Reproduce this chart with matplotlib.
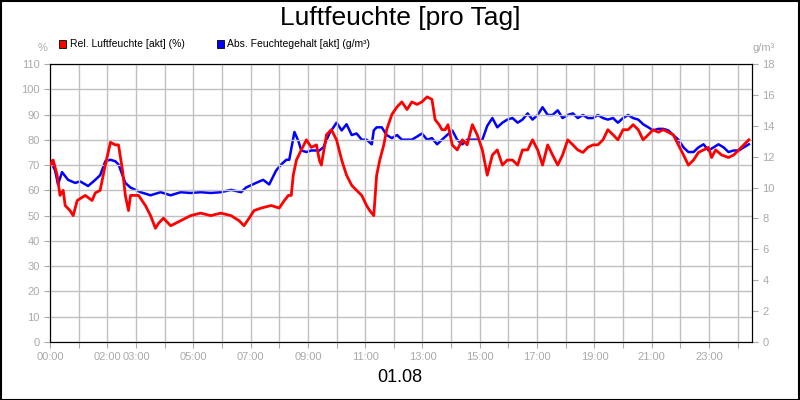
import matplotlib
matplotlib.use("Agg")
import matplotlib.pyplot as plt
import numpy as np
plt.rcParams['font.family'] = ['Liberation Sans', 'DejaVu Sans']

red_t = [0.00,0.11,0.25,0.35,0.46,0.53,0.70,0.81,0.95,1.23,1.47,1.58,1.75,1.93,2.11,2.28,2.39,2.53,2.63,2.74,2.81,3.09,3.33,3.51,3.68,3.79,3.96,4.21,4.39,4.56,4.91,5.26,5.61,5.96,6.32,6.60,6.77,6.95,7.12,7.37,7.72,8.00,8.18,8.32,8.42,8.49,8.60,8.77,8.95,9.12,9.30,9.40,9.47,9.65,9.82,10.0,10.18,10.35,10.53,10.70,10.88,11.05,11.16,11.30,11.40,11.51,11.65,11.75,11.93,12.11,12.28,12.46,12.63,12.81,12.98,13.16,13.33,13.44,13.58,13.68,13.79,13.89,14.04,14.21,14.39,14.56,14.74,14.91,15.09,15.26,15.44,15.61,15.79,15.96,16.14,16.32,16.49,16.67,16.84,17.02,17.19,17.37,17.54,17.72,17.89,18.07,18.25,18.42,18.60,18.77,18.95,19.12,19.30,19.47,19.65,19.82,20.00,20.18,20.35,20.53,20.70,20.88,21.05,21.23,21.40,21.58,21.75,21.93,22.11,22.28,22.46,22.63,22.81,22.98,23.09,23.23,23.44,23.68,23.86,24.04,24.21,24.39]
red_v = [70,72,66,58,60,54,52,50,56,58,56,59,60,70,79,78,78,68,58,52,58,58,54,50,45,47,49,46,47,48,50,51,50,51,50,48,46,49,52,53,54,53,56,58,58,66,72,76,80,77,78,72,70,82,84,80,72,66,62,60,58,54,52,50,66,72,78,84,90,93,95,92,95,94,95,97,96,88,86,84,84,86,78,76,80,78,86,82,76,66,74,76,70,72,72,70,76,76,80,76,70,78,74,70,74,80,78,76,75,77,78,78,80,84,82,80,84,84,86,84,80,82,84,83,84,83,82,78,74,70,72,75,76,77,73,76,74,73,74,76,78,80]

blue_t = [0.00,0.18,0.28,0.42,0.63,0.88,1.05,1.33,1.58,1.75,1.93,2.11,2.28,2.39,2.53,2.63,2.81,3.16,3.51,3.86,4.21,4.56,4.91,5.26,5.61,5.96,6.32,6.67,6.84,7.19,7.44,7.65,7.89,8.07,8.25,8.35,8.53,8.67,8.77,8.95,9.12,9.40,9.54,9.75,10.0,10.18,10.35,10.53,10.70,10.88,11.05,11.23,11.30,11.40,11.58,11.75,11.93,12.11,12.28,12.46,12.63,12.81,12.98,13.16,13.33,13.51,13.68,13.86,14.04,14.21,14.39,14.56,14.74,14.91,15.09,15.26,15.44,15.61,15.79,15.96,16.14,16.32,16.49,16.67,16.84,17.02,17.19,17.37,17.54,17.72,17.89,18.07,18.25,18.42,18.60,18.77,18.95,19.12,19.30,19.47,19.65,19.82,20.00,20.18,20.35,20.53,20.70,20.88,21.05,21.23,21.40,21.58,21.75,21.93,22.11,22.28,22.46,22.63,22.81,22.98,23.16,23.33,23.51,23.68,23.86,24.04,24.21,24.39]
blue_v = [11.8,11.1,10.2,11.0,10.5,10.3,10.4,10.1,10.5,10.8,11.7,11.8,11.7,11.5,10.8,10.3,10.0,9.7,9.5,9.7,9.5,9.7,9.65,9.7,9.65,9.7,9.85,9.7,10.0,10.3,10.5,10.2,11.1,11.5,11.8,11.8,13.6,13.0,12.4,12.3,12.4,12.4,12.6,13.5,14.2,13.7,14.1,13.4,13.5,13.1,13.1,12.8,13.7,13.9,13.9,13.4,13.2,13.4,13.1,13.1,13.1,13.3,13.5,13.1,13.2,12.8,13.1,13.4,13.7,13.1,12.8,13.1,13.1,13.1,13.1,14.0,14.5,13.9,14.2,14.4,14.5,14.2,14.4,14.8,14.4,14.7,15.2,14.7,14.7,15.0,14.5,14.7,14.8,14.5,14.7,14.5,14.5,14.7,14.5,14.4,14.5,14.2,14.5,14.7,14.5,14.4,14.1,13.9,13.7,13.8,13.8,13.7,13.4,13.1,12.6,12.3,12.3,12.6,12.8,12.4,12.6,12.8,12.6,12.3,12.4,12.4,12.6,12.8]

tick_hours = [0,2,3,5,7,9,11,13,15,17,19,21,23]
tick_labels = ["00:00","02:00","03:00","05:00","07:00","09:00","11:00","13:00","15:00","17:00","19:00","21:00","23:00"]

fig = plt.figure(figsize=(8,4), dpi=100)
fig.patches.append(plt.Rectangle((0.001,0.001),0.998,0.997, transform=fig.transFigure,
                                 fill=False, edgecolor='black', lw=1.5))
ax = fig.add_axes([0.0625, 0.145, 0.8775, 0.695])
gray = '#aaaaaa'
ax.set_xlim(0, 24.5)
ax.set_ylim(0, 110)
ax.set_yticks(range(0, 111, 10))
ax.set_xticks(range(0, 25))
ax.set_xticklabels([tick_labels[tick_hours.index(h)] if h in tick_hours else "" for h in range(25)])
ax.grid(True, color='#c0c0c0', lw=1)
ax.tick_params(colors=gray, labelsize=8, length=4)
for s in ax.spines.values():
    s.set_color('black')
ax.plot(red_t, red_v, color='#ff0000', lw=2, zorder=3)
ax2 = ax.twinx()
ax2.set_ylim(0, 18)
ax2.set_yticks(range(0, 19, 2))
ax2.tick_params(colors=gray, labelsize=8, length=4)
ax2.plot(blue_t, blue_v, color='#0000ff', lw=1.8, zorder=2)
ax.set_zorder(ax2.get_zorder()+1); ax.patch.set_visible(False)

fig.text(0.5, 0.955, "Luftfeuchte [pro Tag]", ha='center', va='center', fontsize=19)
fig.text(0.5, 0.055, "01.08", ha='center', va='center', fontsize=13)
fig.text(0.053, 0.88, "%", ha='center', va='center', fontsize=8, color=gray)
fig.text(0.955, 0.88, "g/m³", ha='center', va='center', fontsize=8, color=gray)
fig.patches.append(plt.Rectangle((0.074,0.881),0.009,0.018, transform=fig.transFigure, fc='#ff0000', ec='black', lw=0.6))
fig.text(0.087, 0.89, "Rel. Luftfeuchte [akt] (%)", va='center', fontsize=7.5)
fig.patches.append(plt.Rectangle((0.271,0.881),0.009,0.018, transform=fig.transFigure, fc='#0000ff', ec='black', lw=0.6))
fig.text(0.284, 0.89, "Abs. Feuchtegehalt [akt] (g/m³)", va='center', fontsize=7.5)
fig.savefig("out.png", dpi=100)
